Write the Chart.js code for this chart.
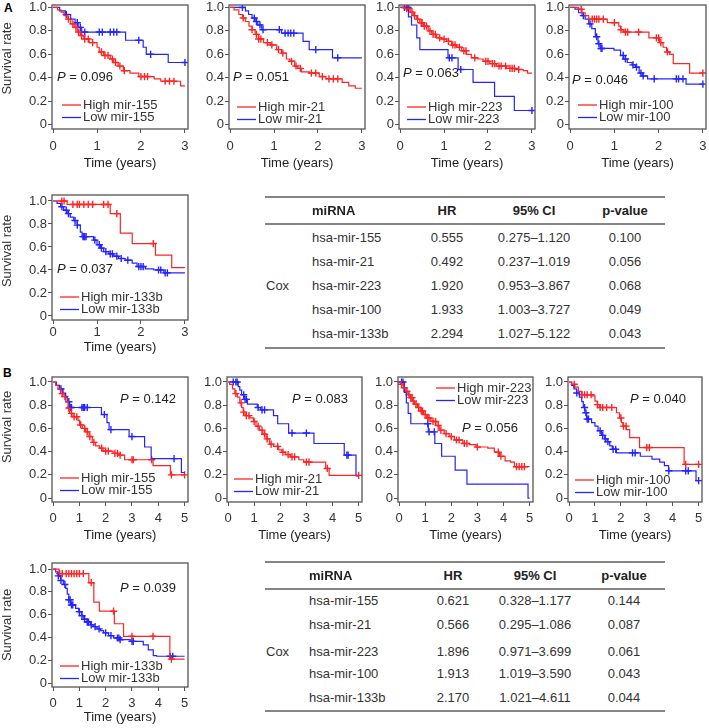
<!DOCTYPE html>
<html>
<head>
<meta charset="utf-8">
<script src="https://cdn.jsdelivr.net/npm/chart.js@4.4.1/dist/chart.umd.min.js"></script>
<style>
body { margin: 0; background: #fff; }
#fig { position: relative; width: 709px; height: 728px; overflow: hidden; font-family: "Liberation Sans", Arial, sans-serif; color: #333; }
#fig canvas { position: absolute; }
.lbl { position: absolute; font-weight: bold; font-size: 12px; color: #000; }
.t { position: absolute; font-size: 13px; white-space: nowrap; line-height: 16px; }
.hd { font-weight: bold; color: #222; }
.rule { position: absolute; height: 2px; background: #858585; }
</style>
</head>
<body>
<div id="fig">
  <div class="lbl" style="left:4px;top:1px">A</div>
  <div class="lbl" style="left:3px;top:366px">B</div>
</div>
<script>
// survival curves: [time (years), survival] after each event, censor times separately

// --- A: 3-year ---
const aHigh155 = [[0,1],[0.1,0.98],[0.18,0.96],[0.25,0.93],[0.32,0.9],[0.4,0.86],[0.48,0.83],[0.55,0.79],[0.62,0.76],[0.7,0.73],[0.82,0.7],[1.0,0.66],[1.05,0.62],[1.15,0.59],[1.3,0.56],[1.38,0.53],[1.48,0.5],[1.6,0.46],[1.75,0.44],[1.95,0.41],[2.3,0.39],[2.45,0.37],[2.9,0.33],[3.0,0.33]];
const aHigh155C = [0.35,0.45,0.52,0.58,0.65,0.72,0.8,0.9,1.1,1.18,1.25,1.35,1.42,1.52,1.62,2.0,2.08,2.15,2.55,2.65,2.75];
const aLow155 = [[0,1],[0.15,0.97],[0.28,0.94],[0.4,0.9],[0.5,0.87],[0.57,0.83],[0.65,0.79],[1.65,0.72],[2.05,0.66],[2.12,0.6],[2.62,0.53],[3.0,0.53]];
const aLow155C = [0.3,0.55,0.62,0.72,1.05,1.12,1.3,1.38,1.45,1.95,2.22,3.0];

const aHigh21 = [[0,1],[0.09,0.98],[0.2,0.94],[0.28,0.91],[0.35,0.88],[0.43,0.84],[0.5,0.81],[0.57,0.77],[0.65,0.73],[0.76,0.7],[0.91,0.68],[1.06,0.64],[1.17,0.61],[1.28,0.56],[1.36,0.54],[1.47,0.5],[1.54,0.48],[1.62,0.45],[1.8,0.44],[2.03,0.41],[2.18,0.39],[2.55,0.36],[2.7,0.33],[2.85,0.31],[3.0,0.31]];
const aHigh21C = [0.3,0.5,0.6,0.65,0.7,0.85,0.95,1.1,1.2,1.4,1.5,1.6,1.85,1.95,2.1,2.25,2.35,2.45];
const aLow21 = [[0,1],[0.35,0.97],[0.42,0.94],[0.5,0.91],[0.57,0.88],[0.63,0.85],[0.72,0.81],[1.17,0.78],[1.66,0.71],[1.8,0.64],[2.33,0.57],[3.0,0.57]];
const aLow21C = [0.28,0.55,0.6,0.68,0.75,1.12,1.25,1.32,1.38,1.45,1.95,2.45];

const aHigh223 = [[0,1],[0.11,0.99],[0.23,0.96],[0.3,0.93],[0.38,0.9],[0.45,0.87],[0.53,0.84],[0.64,0.8],[0.72,0.77],[0.83,0.74],[0.94,0.73],[1.06,0.71],[1.17,0.68],[1.28,0.66],[1.4,0.63],[1.51,0.6],[1.62,0.57],[1.77,0.56],[1.89,0.54],[2.04,0.52],[2.19,0.5],[2.42,0.48],[2.64,0.47],[2.8,0.46],[2.9,0.44],[3.0,0.44]];
const aHigh223C = [0.15,0.2,0.27,0.33,0.4,0.48,0.5,0.55,0.6,0.68,0.75,0.8,0.9,1.0,1.1,1.2,1.25,1.35,1.45,1.5,1.7,1.95,2.0,2.1,2.15,2.25,2.3,2.4,2.5,2.55,2.6,2.7];
const aLow223 = [[0,1],[0.19,0.92],[0.26,0.85],[0.38,0.74],[0.45,0.64],[1.09,0.57],[1.32,0.47],[1.66,0.36],[2.15,0.24],[2.6,0.12],[3.0,0.12]];
const aLow223C = [0.1,0.15,0.18,1.12,1.18,1.38,3.0];

const aHigh100 = [[0,1],[0.19,0.985],[0.27,0.955],[0.34,0.93],[0.42,0.9],[0.84,0.87],[1.1,0.84],[1.14,0.81],[1.21,0.79],[1.78,0.74],[2.02,0.7],[2.1,0.66],[2.18,0.62],[2.25,0.6],[2.33,0.52],[2.7,0.44],[3.0,0.44]];
const aHigh100C = [0.25,0.5,0.55,0.6,0.65,0.75,1.0,1.15,1.25,1.3,1.55,1.95,2.0,2.05,2.2,3.0];
const aLow100 = [[0,1],[0.11,0.985],[0.19,0.955],[0.27,0.93],[0.34,0.9],[0.42,0.86],[0.49,0.82],[0.57,0.75],[0.63,0.69],[0.68,0.65],[0.99,0.635],[1.14,0.59],[1.21,0.56],[1.29,0.53],[1.4,0.51],[1.48,0.49],[1.56,0.44],[1.63,0.415],[1.75,0.39],[2.62,0.345],[3.0,0.345]];
const aLow100C = [0.3,0.45,0.6,0.65,0.7,0.72,1.2,1.25,1.42,1.5,1.6,1.65,1.9,2.4,2.45,2.55,3.0];

const aHigh133b = [[0,1],[0.32,0.97],[1.3,0.89],[1.53,0.72],[1.8,0.63],[2.33,0.53],[2.7,0.42],[3.0,0.42]];
const aHigh133bC = [0.2,0.25,0.45,0.55,0.6,0.7,0.8,0.9,1.15,1.25,1.45,2.28];
const aLow133b = [[0,1],[0.09,0.98],[0.17,0.95],[0.24,0.92],[0.32,0.89],[0.39,0.86],[0.47,0.83],[0.55,0.79],[0.62,0.73],[0.66,0.69],[0.92,0.66],[1.0,0.62],[1.08,0.59],[1.15,0.56],[1.27,0.54],[1.38,0.52],[1.49,0.5],[1.64,0.485],[1.8,0.46],[1.91,0.43],[2.1,0.41],[2.29,0.4],[2.52,0.375],[3.0,0.375]];
const aLow133bC = [0.2,0.3,0.35,0.5,0.55,0.68,0.7,0.72,0.75,0.95,1.05,1.1,1.2,1.3,1.35,1.45,1.55,1.7,1.95,2.0,2.05,2.4,2.45,2.55,2.6];

// --- B: 5-year ---
const bHigh155 = [[0,1],[0.1,0.97],[0.19,0.94],[0.28,0.9],[0.38,0.875],[0.48,0.83],[0.57,0.775],[0.63,0.73],[0.76,0.7],[0.95,0.67],[1.01,0.63],[1.11,0.6],[1.24,0.57],[1.37,0.53],[1.49,0.48],[1.62,0.45],[1.77,0.43],[1.9,0.405],[2.28,0.385],[2.47,0.37],[2.72,0.33],[3.8,0.28],[4.46,0.2],[5.0,0.2]];
const bHigh155C = [0.35,0.45,0.6,0.7,0.8,0.9,1.05,1.2,1.3,1.4,1.55,1.85,2.0,2.1,2.35,2.45,2.55,3.0,3.05,3.75,4.5,5.0];
const bLow155 = [[0,1],[0.13,0.97],[0.25,0.94],[0.38,0.905],[0.48,0.87],[0.54,0.83],[0.63,0.78],[1.84,0.72],[2.05,0.65],[2.13,0.59],[2.89,0.53],[3.48,0.44],[3.73,0.34],[4.88,0.22],[5.0,0.22]];
const bLow155C = [0.3,0.6,0.65,0.7,1.1,1.15,1.2,1.3,1.95,2.2,3.0,4.6];

const bHigh21 = [[0,1],[0.06,0.98],[0.17,0.94],[0.26,0.9],[0.36,0.87],[0.45,0.82],[0.52,0.78],[0.58,0.74],[0.65,0.71],[0.84,0.69],[0.97,0.66],[1.07,0.62],[1.2,0.585],[1.33,0.55],[1.46,0.51],[1.59,0.465],[1.74,0.445],[1.94,0.415],[2.06,0.395],[2.19,0.375],[2.39,0.355],[2.71,0.33],[2.9,0.31],[3.74,0.255],[3.87,0.195],[5.0,0.195]];
const bHigh21C = [0.3,0.5,0.6,0.7,0.8,1.0,1.15,1.3,1.4,1.5,1.65,1.9,2.1,2.3,2.45,2.55,3.0,3.1,3.8,5.0];
const bLow21 = [[0,1],[0.39,0.96],[0.45,0.93],[0.52,0.89],[0.61,0.85],[0.74,0.81],[1.12,0.78],[1.25,0.76],[1.74,0.71],[1.9,0.64],[2.32,0.56],[3.29,0.47],[4.45,0.37],[4.9,0.19],[5.0,0.19]];
const bLow21C = [0.2,0.3,0.35,0.6,0.65,0.7,1.15,1.3,1.4,2.45,3.0,4.55,4.6];

const bHigh223 = [[0,1],[0.06,0.98],[0.17,0.95],[0.26,0.92],[0.35,0.89],[0.42,0.865],[0.51,0.835],[0.6,0.81],[0.71,0.78],[0.81,0.75],[0.94,0.72],[1.06,0.69],[1.22,0.66],[1.41,0.625],[1.54,0.585],[1.73,0.555],[1.92,0.53],[2.12,0.5],[2.44,0.47],[2.69,0.46],[2.95,0.44],[3.4,0.43],[3.65,0.395],[3.85,0.36],[4.06,0.32],[4.27,0.31],[4.42,0.27],[5.0,0.27]];
const bHigh223C = [0.1,0.2,0.3,0.38,0.45,0.5,0.55,0.65,0.75,0.85,0.9,1.0,1.1,1.15,1.3,1.4,1.5,1.6,1.8,2.0,2.2,2.3,2.5,2.6,3.0,3.8,3.9,4.5,4.6,4.7,4.8];
const bLow223 = [[0,1],[0.2,0.91],[0.28,0.82],[0.35,0.73],[0.45,0.64],[1.12,0.57],[1.37,0.47],[1.63,0.36],[2.15,0.24],[2.6,0.12],[4.94,0],[5.0,0]];
const bLow223C = [0.1,0.15,1.1,1.15,1.35];

const bHigh100 = [[0,1],[0.1,0.98],[0.23,0.955],[0.36,0.92],[0.49,0.89],[0.87,0.88],[1.0,0.835],[1.09,0.805],[1.19,0.78],[1.83,0.735],[1.95,0.69],[2.02,0.65],[2.08,0.62],[2.21,0.59],[2.34,0.52],[2.72,0.435],[4.44,0.29],[5.0,0.29]];
const bHigh100C = [0.2,0.5,0.6,0.7,0.85,1.1,1.2,1.3,1.45,1.65,2.0,2.1,2.2,3.0,3.1,4.5,5.0];
const bLow100 = [[0,1],[0.1,0.97],[0.19,0.94],[0.29,0.905],[0.4,0.87],[0.49,0.83],[0.55,0.78],[0.61,0.735],[0.68,0.68],[0.87,0.65],[1.0,0.62],[1.12,0.58],[1.25,0.54],[1.38,0.51],[1.47,0.485],[1.57,0.45],[1.67,0.42],[1.83,0.39],[2.75,0.36],[3.2,0.335],[3.5,0.31],[3.68,0.28],[3.84,0.235],[4.9,0.15],[5.0,0.15]];
const bLow100C = [0.3,0.6,0.65,0.7,0.75,1.2,1.3,1.4,1.5,1.7,1.8,2.45,2.55,3.85,4.5,4.6,5.0];

const bHigh133b = [[0,1],[0.23,0.96],[1.36,0.88],[1.55,0.71],[1.76,0.63],[2.33,0.52],[2.68,0.41],[4.44,0.21],[5.0,0.21]];
const bHigh133bC = [0.25,0.35,0.5,0.6,0.7,0.8,0.9,1.0,1.15,1.45,2.3,3.0,3.8,4.5];
const bLow133b = [[0,1],[0.1,0.975],[0.19,0.94],[0.29,0.9],[0.39,0.865],[0.48,0.83],[0.54,0.78],[0.6,0.73],[0.67,0.685],[0.86,0.655],[0.98,0.625],[1.08,0.59],[1.17,0.56],[1.3,0.535],[1.42,0.51],[1.55,0.495],[1.67,0.475],[1.8,0.46],[1.92,0.44],[2.11,0.415],[2.3,0.395],[2.55,0.38],[2.93,0.365],[3.43,0.335],[3.62,0.29],[3.81,0.24],[3.94,0.235],[5.0,0.235]];
const bLow133bC = [0.2,0.3,0.45,0.6,0.65,0.7,0.75,1.0,1.1,1.2,1.3,1.35,1.45,1.6,1.75,2.0,2.2,2.45,2.5,2.55,3.0,3.05,4.45,4.55];

// labels / p-values
const mirNames = ['mir-155', 'mir-21', 'mir-223', 'mir-100', 'mir-133b'];
const logrankA = ['0.096', '0.051', '0.063', '0.046', '0.037'];
const logrankB = ['0.142', '0.083', '0.056', '0.040', '0.039'];
const yTickVals = [0, 0.2, 0.4, 0.6, 0.8, 1.0];
const xTicksA = [0, 1, 2, 3];
const xTicksB = [0, 1, 2, 3, 4, 5];

// Cox tables
const tableHead = ['miRNA', 'HR', '95% CI', 'p-value'];
const coxMirnas = ['hsa-mir-155', 'hsa-mir-21', 'hsa-mir-223', 'hsa-mir-100', 'hsa-mir-133b'];
const hrA = ['0.555', '0.492', '1.920', '1.933', '2.294'];
const ciA = ['0.275–1.120', '0.237–1.019', '0.953–3.867', '1.003–3.727', '1.027–5.122'];
const pvA = ['0.100', '0.056', '0.068', '0.049', '0.043'];
const hrB = ['0.621', '0.566', '1.896', '1.913', '2.170'];
const ciB = ['0.328–1.177', '0.295–1.086', '0.971–3.699', '1.019–3.590', '1.021–4.611'];
const pvB = ['0.144', '0.087', '0.061', '0.043', '0.044'];

const RED = '#ff2424';
const BLUE = '#2424ff';
const FONT = '"Liberation Sans", Arial, sans-serif';
Chart.defaults.font.family = FONT;
Chart.defaults.font.size = 13;
Chart.defaults.color = '#333';

const fig = document.getElementById('fig');

function survAt(curve, t) {
    let s = 1;
    curve.forEach(([ti, si]) => { if (ti <= t) s = si; });
    return s;
}

function stepSet(curve, color) {
    return {
        data: curve.map(([x, y]) => ({ x, y })),
        stepped: true, borderColor: color, borderWidth: 1.2,
        pointRadius: 0, fill: false
    };
}

function censSet(curve, cens, color) {
    return {
        data: cens.map(t => ({ x: t, y: survAt(curve, t) })),
        showLine: false, pointStyle: 'cross', pointRadius: 3.6,
        borderColor: color, borderWidth: 1.4, backgroundColor: color
    };
}

// frame, in-plot legend, P value, y title
const kmDecor = {
    id: 'kmDecor',
    afterDraw(chart, args, o) {
        const { ctx, chartArea: a } = chart;
        ctx.save();
        ctx.strokeStyle = '#555';
        ctx.lineWidth = 1.3;
        ctx.strokeRect(a.left, a.top, a.right - a.left, a.bottom - a.top);

        ctx.textBaseline = 'middle';
        ctx.textAlign = 'left';
        ctx.font = '13px ' + FONT;
        const lx = a.left + o.leg[0], ly = a.top + o.leg[1];
        [[RED, 'High ' + o.name], [BLUE, 'Low ' + o.name]].forEach(([c, txt], i) => {
            const y = ly + i * 12.5;
            ctx.strokeStyle = c;
            ctx.lineWidth = 1.3;
            ctx.beginPath();
            ctx.moveTo(lx, y);
            ctx.lineTo(lx + 19, y);
            ctx.stroke();
            ctx.fillStyle = '#333';
            ctx.fillText(txt, lx + 21, y);
        });

        const px = a.left + o.pp[0], py = a.top + o.pp[1];
        ctx.fillStyle = '#222';
        ctx.font = 'italic 13px ' + FONT;
        ctx.fillText('P', px, py);
        const pw = ctx.measureText('P').width;
        ctx.font = '13px ' + FONT;
        ctx.fillText(' = ' + o.p, px + pw, py);

        if (o.ytitle != null) {
            ctx.translate(7.8, a.top + o.ytitle);
            ctx.rotate(-Math.PI / 2);
            ctx.textAlign = 'center';
            ctx.fillStyle = '#333';
            ctx.fillText('Survival rate', 0, 0);
        }
        ctx.restore();
    }
};

// row geometry
const rowA1 = { t: 5, b: 129, y: [-0.038, 1.021], lab: 5.2, tit: 34 };
const rowA2 = { t: 195, b: 320, y: [-0.035, 1.052], lab: 1, tit: 27 };
const rowB1 = { t: 377, b: 502, y: [-0.034, 1.043], lab: 4.2, tit: 33 };
const rowB2 = { t: 563, b: 687, y: [-0.035, 1.053], lab: 4.5, tit: 30 };

function km(p) {
    const row = p.row;
    const w = p.r - p.l, h = row.b - row.t;
    const axisH = row.tit + 7.8;
    const padT = 10, padR = 10, padB = 2;
    const cw = 52 + w + padR, ch = Math.round(padT + h + axisH + padB);
    const cv = document.createElement('canvas');
    cv.width = cw; cv.height = ch;
    cv.style.left = (p.l - 52) + 'px';
    cv.style.top = (row.t - padT) + 'px';
    cv.style.width = cw + 'px';
    cv.style.height = ch + 'px';
    fig.appendChild(cv);
    const five = p.xt.length === 6;
    const xr = five ? [-0.04, 5.13] : [-0.025, 3.07];

    new Chart(cv, {
        type: 'line',
        data: {
            datasets: [
                stepSet(p.hi, RED), stepSet(p.lo, BLUE),
                censSet(p.hi, p.hiC, RED), censSet(p.lo, p.loC, BLUE)
            ]
        },
        options: {
            responsive: false,
            animation: false,
            devicePixelRatio: 1,
            layout: { padding: { left: 0, top: padT, right: padR, bottom: ch - padT - h - axisH } },
            plugins: {
                legend: { display: false },
                tooltip: { enabled: false },
                kmDecor: { name: p.name, p: p.pv, leg: p.leg, pp: p.pp, ytitle: p.ytitle }
            },
            scales: {
                x: {
                    type: 'linear', min: xr[0], max: xr[1],
                    afterBuildTicks: ax => { ax.ticks = p.xt.map(v => ({ value: v })); },
                    afterFit: ax => { ax.height = axisH; },
                    ticks: { autoSkip: false, maxRotation: 0, padding: row.lab, color: '#333' },
                    grid: { drawOnChartArea: false, tickLength: 4, color: '#555' },
                    border: { display: false },
                    title: { display: true, text: 'Time (years)', padding: 0, color: '#222', font: { size: 13 } }
                },
                y: {
                    type: 'linear', min: row.y[0], max: row.y[1],
                    afterBuildTicks: ax => { ax.ticks = yTickVals.map(v => ({ value: v })); },
                    afterFit: ax => { ax.width = 52; },
                    ticks: { padding: 1, color: '#333', callback: v => v === 0 ? '0' : v.toFixed(1) },
                    grid: { drawOnChartArea: false, tickLength: 4, color: '#555' },
                    border: { display: false }
                }
            }
        },
        plugins: [kmDecor]
    });
}

km({ row: rowA1, l: 52, r: 188, xt: xTicksA, hi: aHigh155, hiC: aHigh155C, lo: aLow155, loC: aLow155C,
     name: mirNames[0], pv: logrankA[0], leg: [10, 100], pp: [5, 72], ytitle: 53.5 });
km({ row: rowA1, l: 229, r: 365, xt: xTicksA, hi: aHigh21, hiC: aHigh21C, lo: aLow21, loC: aLow21C,
     name: mirNames[1], pv: logrankA[1], leg: [8, 102], pp: [4, 72] });
km({ row: rowA1, l: 399, r: 535, xt: xTicksA, hi: aHigh223, hiC: aHigh223C, lo: aLow223, loC: aLow223C,
     name: mirNames[2], pv: logrankA[2], leg: [8, 102], pp: [4, 68] });
km({ row: rowA1, l: 569, r: 706, xt: xTicksA, hi: aHigh100, hiC: aHigh100C, lo: aLow100, loC: aLow100C,
     name: mirNames[3], pv: logrankA[3], leg: [9, 100], pp: [3, 75] });
km({ row: rowA2, l: 52, r: 188, xt: xTicksA, hi: aHigh133b, hiC: aHigh133bC, lo: aLow133b, loC: aLow133bC,
     name: mirNames[4], pv: logrankA[4], leg: [8, 102], pp: [5, 74], ytitle: 56 });

km({ row: rowB1, l: 52, r: 188, xt: xTicksB, hi: bHigh155, hiC: bHigh155C, lo: bLow155, loC: bLow155C,
     name: mirNames[0], pv: logrankB[0], leg: [8, 101], pp: [68, 22], ytitle: 50 });
km({ row: rowB1, l: 227, r: 362, xt: xTicksB, hi: bHigh21, hiC: bHigh21C, lo: bLow21, loC: bLow21C,
     name: mirNames[1], pv: logrankB[1], leg: [7, 102], pp: [65, 22] });
km({ row: rowB1, l: 398, r: 533, xt: xTicksB, hi: bHigh223, hiC: bHigh223C, lo: bLow223, loC: bLow223C,
     name: mirNames[2], pv: logrankB[2], leg: [38, 11], pp: [64, 51] });
km({ row: rowB1, l: 568, r: 702, xt: xTicksB, hi: bHigh100, hiC: bHigh100C, lo: bLow100, loC: bLow100C,
     name: mirNames[3], pv: logrankB[3], leg: [7, 103], pp: [62, 22] });
km({ row: rowB2, l: 52, r: 188, xt: xTicksB, hi: bHigh133b, hiC: bHigh133bC, lo: bLow133b, loC: bLow133bC,
     name: mirNames[4], pv: logrankB[4], leg: [8, 103], pp: [68, 25], ytitle: 62 });

// tables
function addText(txt, x, cy, bold, center) {
    const d = document.createElement('div');
    d.className = 't' + (bold ? ' hd' : '');
    d.textContent = txt;
    if (center) {
        d.style.left = (x - 60) + 'px';
        d.style.width = '120px';
        d.style.textAlign = 'center';
    } else {
        d.style.left = x + 'px';
    }
    d.style.top = (cy - 8) + 'px';
    fig.appendChild(d);
}

function addRule(x, y, w) {
    const d = document.createElement('div');
    d.className = 'rule';
    d.style.left = x + 'px';
    d.style.top = y + 'px';
    d.style.width = w + 'px';
    fig.appendChild(d);
}

function coxTable(g, hr, ci, pv) {
    addRule(265, g.top, 400);
    addRule(265, g.sep, 400);
    addRule(265, g.bottom, 400);
    addText(tableHead[0], g.mir, g.head, true, false);
    addText(tableHead[1], g.hr, g.head, true, true);
    addText(tableHead[2], g.ci, g.head, true, true);
    addText(tableHead[3], g.p, g.head, true, true);
    addText('Cox', 266, g.rows[2], false, false);
    coxMirnas.forEach((m, i) => {
        addText(m, g.mir, g.rows[i], false, false);
        addText(hr[i], g.hr, g.rows[i], false, true);
        addText(ci[i], g.ci, g.rows[i], false, true);
        addText(pv[i], g.p, g.rows[i], false, true);
    });
}

coxTable({ top: 196, sep: 222.5, bottom: 346.5, head: 211, rows: [238, 262, 286, 310, 334],
           mir: 312, hr: 447, ci: 534, p: 625 }, hrA, ciA, pvA);
coxTable({ top: 561, sep: 588, bottom: 710, head: 576, rows: [601, 625, 652, 674, 698],
           mir: 309, hr: 453, ci: 535, p: 624 }, hrB, ciB, pvB);
</script>
</body>
</html>
